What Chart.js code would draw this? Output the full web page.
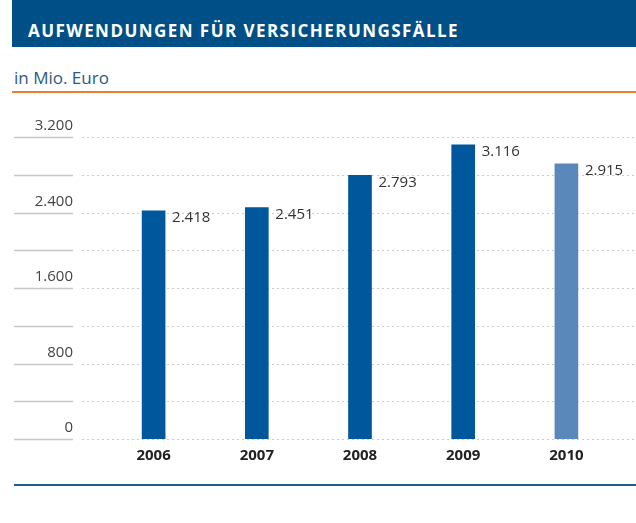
<!DOCTYPE html>
<html>
<head>
<meta charset="utf-8">
<script src="https://cdn.jsdelivr.net/npm/chart.js@4/dist/chart.umd.min.js"></script>
<style>
  body { margin: 0; background: #fff; font-family: "Open Sans", sans-serif; }
  #wrap { position: relative; width: 636px; height: 523px; overflow: hidden; }
  .head { position: absolute; left: 12px; top: 0; width: 624px; height: 47px; background: #004f87; }
  .head span { position: absolute; left: 16px; top: 19px; color: #fff; font-weight: bold; font-size: 17px; letter-spacing: 1.45px; white-space: nowrap; line-height: normal; }
  .unit { position: absolute; left: 14px; top: 66px; color: #2b5a86; font-size: 17px; white-space: nowrap; line-height: normal; }
  .orange { position: absolute; left: 12px; top: 91px; width: 624px; height: 2px; background: #f07b2f; }
  .bottom { position: absolute; left: 14px; top: 484px; width: 622px; height: 2px; background: #1d5a91; }
  canvas { position: absolute; left: 0; top: 0; }
</style>
</head>
<body>
<div id="wrap">
  <div class="head"><span>AUFWENDUNGEN FÜR VERSICHERUNGSFÄLLE</span></div>
  <div class="unit">in Mio. Euro</div>
  <div class="orange"></div>
  <canvas id="c" width="636" height="523"></canvas>
  <div class="bottom"></div>
</div>
<script>
'use strict';

const years = ['2006', '2007', '2008', '2009', '2010'];
const expenses = [2418, 2451, 2793, 3116, 2915];
const barColors = ['#00579b', '#00579b', '#00579b', '#00579b', '#5b88ba'];
const yTicks = [0, 800, 1600, 2400, 3200];

function fmt(n) {
  return String(n).replace(/\B(?=(\d{3})+(?!\d))/g, '.');
}

// grid: solid grey stubs on the left, dotted lines across
const gridPlugin = {
  id: 'grid',
  beforeDatasetsDraw: function(chart) {
    const ctx = chart.ctx;
    const y = chart.scales.y;
    ctx.save();
    y.ticks.forEach(function(t) {
      const py = Math.round(y.getPixelForValue(t.value)) + 0.5;
      ctx.setLineDash([]);
      ctx.strokeStyle = '#c8c8c8';
      ctx.lineWidth = 1.5;
      ctx.beginPath();
      ctx.moveTo(14, py);
      ctx.lineTo(73, py);
      ctx.stroke();
      ctx.setLineDash([2, 3]);
      ctx.strokeStyle = '#cccccc';
      ctx.lineWidth = 1;
      ctx.beginPath();
      ctx.moveTo(82, py);
      ctx.lineTo(636, py);
      ctx.stroke();
    });
    ctx.restore();
  }
};

const valuePlugin = {
  id: 'values',
  afterDatasetsDraw: function(chart) {
    const ctx = chart.ctx;
    ctx.save();
    ctx.font = '15px "Open Sans"';
    ctx.fillStyle = '#333';
    ctx.textAlign = 'left';
    ctx.textBaseline = 'middle';
    chart.getDatasetMeta(0).data.forEach(function(bar, i) {
      ctx.fillText(fmt(expenses[i]), bar.x + bar.width / 2 + 7, bar.y + 7);
    });
    ctx.restore();
  }
};

new Chart(document.getElementById('c'), {
  type: 'bar',
  data: {
    labels: years,
    datasets: [{
      data: expenses,
      backgroundColor: barColors,
      barThickness: 23
    }]
  },
  options: {
    responsive: false,
    animation: false,
    layout: { padding: { top: 137, right: 18, left: 0, bottom: 0 } },
    plugins: { legend: { display: false }, tooltip: { enabled: false } },
    scales: {
      y: {
        min: 0,
        max: 3200,
        afterFit: function(s) { s.width = 102; },
        grid: { display: false, drawTicks: false },
        border: { display: false },
        ticks: {
          stepSize: 400,
          padding: 29,
          labelOffset: -11,
          color: '#444',
          font: { family: 'Open Sans', size: 15 },
          callback: function(v) { return yTicks.indexOf(v) >= 0 ? fmt(v) : ''; }
        }
      },
      x: {
        afterFit: function(s) { s.height = 84; },
        grid: { display: false, drawTicks: false },
        border: { display: false },
        ticks: {
          padding: 8,
          color: '#222',
          font: { family: 'Open Sans', size: 15, weight: 'bold' }
        }
      }
    }
  },
  plugins: [gridPlugin, valuePlugin]
});
</script>
</body>
</html>
